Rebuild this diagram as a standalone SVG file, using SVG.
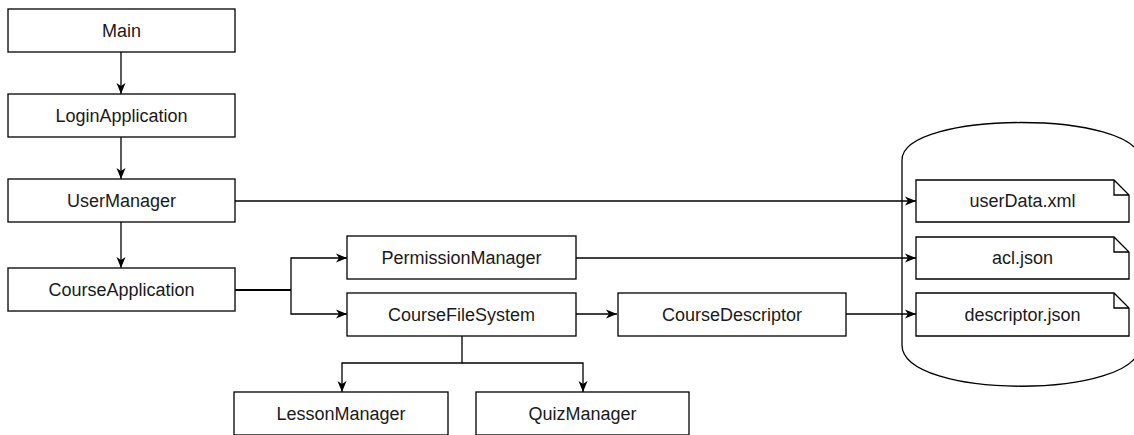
<svg xmlns="http://www.w3.org/2000/svg" width="1134" height="435" viewBox="0 0 1134 435">
<style>
.box{fill:#fff;stroke:#000;stroke-width:1.3}
.lbl{font-family:"Liberation Sans",Arial,sans-serif;font-size:18px;fill:#1a1a1a;text-anchor:middle}
.edge{fill:none;stroke:#000;stroke-width:1.3}
</style>
<defs>
<marker id="arr" markerUnits="userSpaceOnUse" markerWidth="12" markerHeight="10" refX="11" refY="5" orient="auto" viewBox="0 0 12 10">
<path d="M0,0.5 L11,5 L0,9.5 L3,5 Z" fill="#000"/>
</marker>
</defs>
<rect width="1134" height="435" fill="#fff"/>
<g id="storage">
<path class="box" d="M902,160 C902,110 1140,110 1140,160 L1140,345 C1140,400 902,400 902,345 Z"/>
</g>
<g id="connectors">
<path class="edge" d="M121,52 V94" marker-end="url(#arr)"/>
<path class="edge" d="M121,137 V179" marker-end="url(#arr)"/>
<path class="edge" d="M121,222 V268" marker-end="url(#arr)"/>
<path class="edge" d="M235,201 H916" marker-end="url(#arr)"/>
<path class="edge" style="stroke-width:2" d="M235,290 H291"/>
<path class="edge" d="M291,290 V258 H347" marker-end="url(#arr)"/>
<path class="edge" d="M291,290 V314 H347" marker-end="url(#arr)"/>
<path class="edge" d="M576,258 H916" marker-end="url(#arr)"/>
<path class="edge" d="M576,314 H617" marker-end="url(#arr)"/>
<path class="edge" d="M846,314 H916" marker-end="url(#arr)"/>
<path class="edge" d="M462,336 V363 H342 V392" marker-end="url(#arr)"/>
<path class="edge" d="M462,363 H583 V392" marker-end="url(#arr)"/>
</g>
<g id="main"><rect class="box" x="8" y="9" width="227" height="43"/><text class="lbl" x="121.5" y="37">Main</text></g>
<g id="loginApplication"><rect class="box" x="8" y="94" width="227" height="43"/><text class="lbl" x="121.5" y="122">LoginApplication</text></g>
<g id="userManager"><rect class="box" x="8" y="179" width="227" height="43"/><text class="lbl" x="121.5" y="207">UserManager</text></g>
<g id="courseApplication"><rect class="box" x="8" y="268" width="227" height="43" style="stroke:#222;stroke-width:1.5"/><text class="lbl" x="121.5" y="296">CourseApplication</text></g>
<g id="permissionManager"><rect class="box" x="347" y="236" width="229" height="43"/><text class="lbl" x="461.5" y="264">PermissionManager</text></g>
<g id="courseFileSystem"><rect class="box" x="347" y="293" width="229" height="43"/><text class="lbl" x="461.5" y="321">CourseFileSystem</text></g>
<g id="courseDescriptor"><rect class="box" x="618" y="293" width="228" height="43"/><text class="lbl" x="732" y="321">CourseDescriptor</text></g>
<g id="lessonManager"><rect class="box" x="234" y="392" width="214" height="43"/><text class="lbl" x="341" y="420">LessonManager</text></g>
<g id="quizManager"><rect class="box" x="476" y="392" width="213" height="43"/><text class="lbl" x="582.5" y="420">QuizManager</text></g>
<g id="userData"><path class="box" d="M916,180 H1114 L1129,195 V222 H916 Z M1114,180 V195 H1129"/><text class="lbl" x="1022.5" y="207">userData.xml</text></g>
<g id="acl"><path class="box" d="M916,237 H1114 L1129,252 V279 H916 Z M1114,237 V252 H1129"/><text class="lbl" x="1022.5" y="264">acl.json</text></g>
<g id="descriptor"><path class="box" d="M916,293 H1114 L1129,308 V336 H916 Z M1114,293 V308 H1129"/><text class="lbl" x="1022.5" y="321">descriptor.json</text></g>
</svg>
